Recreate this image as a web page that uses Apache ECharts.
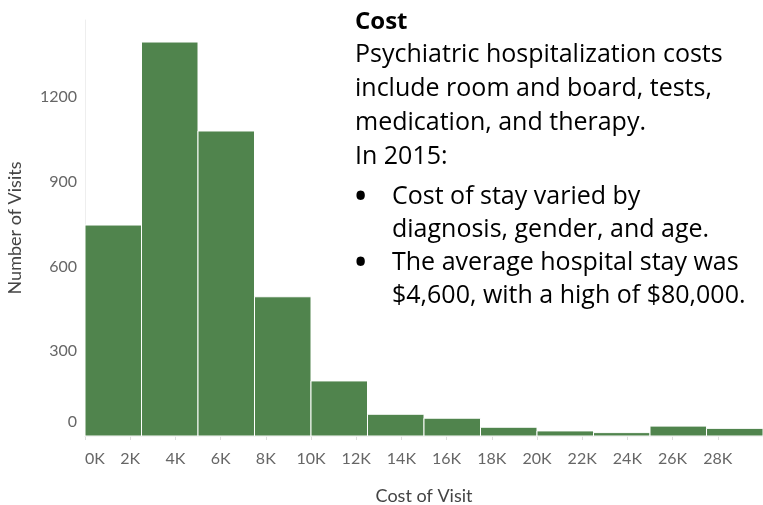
<!DOCTYPE html>
<html>
<head>
<meta charset="utf-8">
<script src="https://cdn.jsdelivr.net/npm/echarts@6/dist/echarts.min.js"></script>
<style>
  html, body { margin: 0; padding: 0; background: #fff; }
  #chart { width: 763px; height: 505px; }
</style>
</head>
<body>
<div id="chart"></div>
<script>
// histogram bins (cost of visit, $) and visit counts
const binEdges = [0, 2500, 5000, 7500, 10000, 12500, 15000, 17500, 20000, 22500, 25000, 27500, 30000];
const visitCounts = [747, 1395, 1080, 493, 195, 77, 63, 31, 18, 12, 35, 27];
const xTicks = [0, 2000, 4000, 6000, 8000, 10000, 12000, 14000, 16000, 18000, 20000, 22000, 24000, 26000, 28000];
const yTicks = [0, 300, 600, 900, 1200];

const noteLines = [
  "Psychiatric hospitalization costs",
  "include room and board, tests,",
  "medication, and therapy.",
  "In 2015:"
];
const bulletLines = [
  ["Cost of stay varied by", "diagnosis, gender, and age."],
  ["The average hospital stay was", "$4,600, with a high of $80,000."]
];

const barData = visitCounts.map((c, i) => [binEdges[i], binEdges[i + 1], c]);

const noteFont = "'Open Sans', Lato, sans-serif";
const graphics = [];
function addText(x, y, text, font) {
  graphics.push({
    type: "text", x: x, y: y,
    style: { text: text, font: font, fill: "#000", verticalAlign: "middle" }
  });
}
addText(355, 22, "Cost", "bold 24px " + noteFont);
noteLines.forEach((t, i) => addText(355, 55 + i * 34, t, "25px " + noteFont));
let y = 197;
bulletLines.forEach(lines => {
  addText(355, y, "•", "bold 30px " + noteFont);
  lines.forEach((t, j) => addText(392, y + j * 33, t, "25px " + noteFont));
  y += 66;
});

const chart = echarts.init(document.getElementById("chart"));
chart.setOption({
  animation: false,
  grid: { left: 85, right: 0, top: 20, bottom: 69, outerBoundsMode: "none", containLabel: false },
  xAxis: {
    type: "value",
    min: 0,
    max: 30000,
    interval: 2000,
    name: "Cost of Visit",
    nameLocation: "middle",
    nameGap: 51,
    nameTextStyle: { color: "#444", fontSize: 18, fontFamily: "Lato" },
    axisLine: { show: true, lineStyle: { color: "#e6e6e6" } },
    axisTick: { show: true, length: 4, lineStyle: { color: "#ddd" } },
    splitLine: { show: false },
    axisLabel: {
      color: "#666", fontSize: 16, fontFamily: "Lato", margin: 15,
      showMaxLabel: false,
      alignMinLabel: "left",
      formatter: v => xTicks.includes(v) ? (v / 1000) + "K" : ""
    }
  },
  yAxis: {
    type: "value",
    min: 0,
    max: 1473,
    interval: 300,
    name: "Number of Visits",
    nameLocation: "middle",
    nameGap: 61,
    nameTextStyle: { color: "#444", fontSize: 18, fontFamily: "Lato" },
    axisLine: { show: true, lineStyle: { color: "#eeeeee" } },
    axisTick: { show: false },
    splitLine: { show: false },
    axisLabel: {
      color: "#666", fontSize: 16, fontFamily: "Lato", margin: 8,
      showMaxLabel: false,
      verticalAlignMinLabel: "bottom",
      formatter: v => v === 0 ? "{z|0}" : (yTicks.includes(v) ? String(v) : ""),
      rich: { z: { color: "#666", fontSize: 16, fontFamily: "Lato", padding: [0, 0, 6, 0] } }
    }
  },
  series: [{
    type: "custom",
    data: barData,
    encode: { x: [0, 1], y: 2 },
    renderItem: (params, api) => {
      const p0 = api.coord([api.value(0), api.value(2)]);
      const p1 = api.coord([api.value(1), 0]);
      return {
        type: "rect",
        shape: { x: p0[0], y: p0[1], width: p1[0] - p0[0], height: p1[1] - p0[1] },
        style: { fill: "#50844d", stroke: "#fff", lineWidth: 1 }
      };
    }
  }],
  graphic: graphics
});
</script>
</body>
</html>
